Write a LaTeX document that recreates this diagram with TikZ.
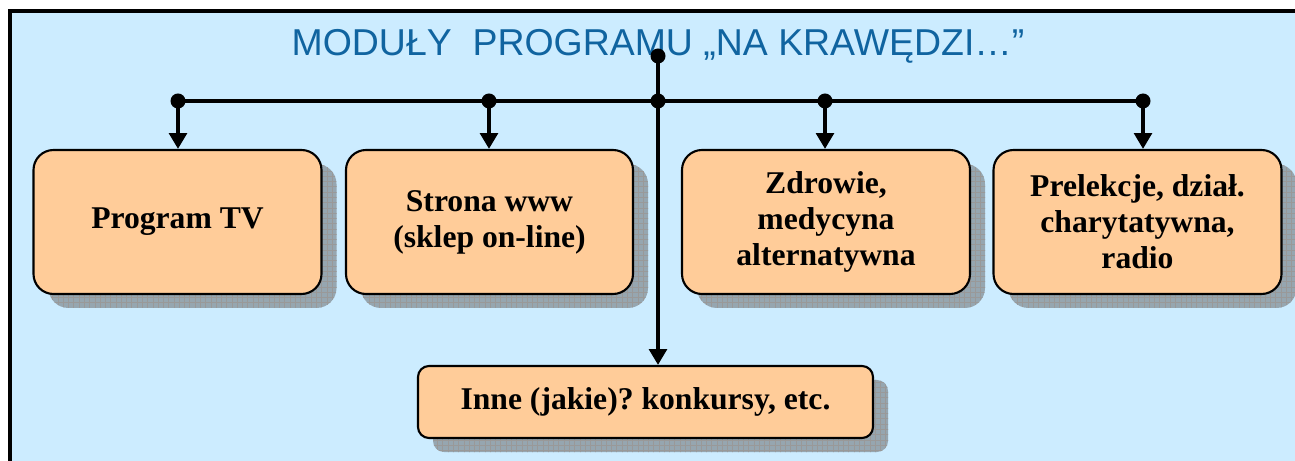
\documentclass[tikz,border=0pt]{standalone}
\usepackage{fontspec}
\setmainfont{Liberation Serif}
\newfontfamily\titlefont{Liberation Sans}
\usetikzlibrary{arrows.meta,patterns,shadows}

\definecolor{bgblue}{RGB}{204,236,255}
\definecolor{peach}{RGB}{255,204,153}
\definecolor{titleblue}{RGB}{16,100,160}
\definecolor{shadowgray}{RGB}{150,166,176}

\begin{document}
\frenchspacing
\begin{tikzpicture}[
   modbox/.style={rectangle,rounded corners=0.4cm,draw,line width=1.2pt,fill=peach,
    minimum width=5.76cm,minimum height=2.88cm,align=center,
    font=\fontsize{18}{20.5}\selectfont\bfseries,
    general shadow={shadow xshift=0.3cm,shadow yshift=-0.28cm,fill=shadowgray},
    general shadow={shadow xshift=0.3cm,shadow yshift=-0.28cm,pattern=grid,pattern color=gray!80}},
   dot/.style={circle,fill=black,inner sep=0pt,minimum size=0.3cm},
   link/.style={line width=2.1pt},
   tip/.style={line width=2.1pt,-{Triangle[width=10pt,length=9pt]}}
    ]
  \useasboundingbox (0,0) rectangle (25.9,-9.22);

  % -- background and frame
  \fill[bgblue] (0.2,-0.22) rectangle (26.5,-9.8);
  \draw[line width=2pt] (0.2,-9.8) -- (0.2,-0.22) -- (26.5,-0.22);

  % -- title
  \node[font=\titlefont\fontsize{21.3}{25}\selectfont,text=titleblue] at (13.16,-0.92) (title)
    {MODUŁY\ \ PROGRAMU „NA KRAWĘDZI…”};

  % -- modules
  \node[modbox] at (3.55,-4.44) (tv) {Program TV};
  \node[modbox,minimum width=5.74cm] at (9.79,-4.44) (www) {Strona www\\(sklep on-line)};
  \node[modbox] at (16.52,-4.44) (zdrowie) {Zdrowie,\\medycyna\\alternatywna};
  \node[modbox] at (22.75,-4.44) (prelekcje) {Prelekcje, dział.\\charytatywna,\\radio};
  \node[modbox,minimum width=9.1cm,minimum height=1.44cm,rounded corners=0.22cm] at (12.91,-8.04) (inne)
    {Inne (jakie)? konkursy, etc.};

  % -- dots
  \node[dot] at (13.16,-1.12) (top) {};
  \node[dot] at (3.56,-2.02) (d1) {};
  \node[dot] at (9.78,-2.02) (d2) {};
  \node[dot] at (13.16,-2.02) (dc) {};
  \node[dot] at (16.5,-2.02) (d3) {};
  \node[dot] at (22.86,-2.02) (d4) {};

  % -- connectors
  \draw[link] (d1.center) -- (d4.center);
  \draw[tip] (top.center) -- (inne.north -| top);
  \draw[tip] (d1.center) -- (tv.north -| d1);
  \draw[tip] (d2.center) -- (www.north -| d2);
  \draw[tip] (d3.center) -- (zdrowie.north -| d3);
  \draw[tip] (d4.center) -- (prelekcje.north -| d4);

\end{tikzpicture}
\end{document}
